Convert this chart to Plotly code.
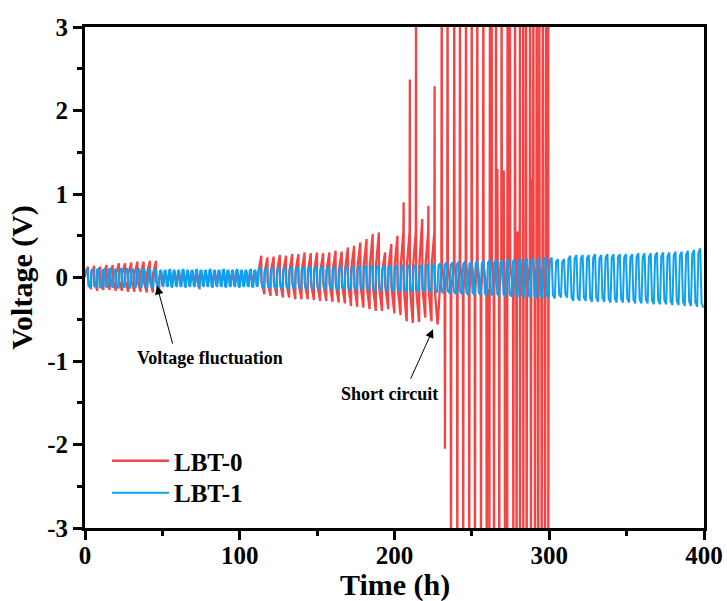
import plotly.graph_objects as go

# ---------------- data ----------------
# LBT-0, stage 1 (0-48 h), 4 h cycles
red1_start, red1_period = 0.0, 4.0
red1_hi = [0.13, 0.14, 0.13, 0.15, 0.15, 0.17, 0.17, 0.18, 0.19, 0.19, 0.20, 0.20]
red1_lo = [-0.14, -0.16, -0.15, -0.15, -0.16, -0.16, -0.17, -0.17, -0.17, -0.18, -0.18, -0.18]
# stage 2 (48-112 h), ~2.9 h cycles, small polarisation
red2_start, red2_period = 48.0, 2.9
red2_hi = [0.06, 0.05, 0.06, 0.05, 0.06, 0.05, 0.06, 0.06, 0.05, 0.06, 0.05,
           0.06, 0.05, 0.06, 0.06, 0.05, 0.06, 0.05, 0.06, 0.06, 0.05, 0.06]
red2_lo = [-0.07, -0.06, -0.07, -0.06, -0.07, -0.07, -0.06, -0.07, -0.14, -0.07, -0.06,
           -0.07, -0.07, -0.06, -0.07, -0.07, -0.06, -0.07, -0.07, -0.06, -0.07, -0.07]
# stage 3 (112-228 h), 4 h cycles
red3_start, red3_period = 112.0, 4.0
red3_hi = [0.26, 0.24, 0.25, 0.27, 0.26, 0.28, 0.28, 0.30, 0.29, 0.30, 0.29, 0.30, 0.32, 0.31,
           0.36, 0.38, 0.42, 0.46, 0.52, 0.54, 0.30, 0.40, 0.50, 0.90, 2.37, 4.00, 0.70, 0.86, 2.29]
red3_lo = [-0.20, -0.22, -0.22, -0.24, -0.24, -0.26, -0.26, -0.26, -0.27, -0.28, -0.28, -0.29,
           -0.30, -0.31, -0.34, -0.35, -0.36, -0.38, -0.40, -0.40, -0.38, -0.43, -0.45, -0.51,
           -0.53, -0.52, -0.48, -0.51, -0.55]
# stage 4: short circuit (230-300 h), spikes beyond the axis range
red_up_t = [230.5, 234.3, 238.6, 242.3, 246.2, 249.9, 253.5, 257.4, 261.7, 262.8, 265.6, 269.2,
            273.1, 274.6, 277.9, 281.1, 283.2, 285.0, 287.6, 289.7, 291.9, 293.6, 295.8, 297.9, 299.4]
red_up_v = [4.0, 4.0, 4.0, 4.0, 4.0, 4.0, 4.0, 4.0, 4.0, 4.0, 4.0, 4.0,
            4.0, 4.0, 4.0, 4.0, 4.0, 4.0, 4.0, 4.0, 4.0, 4.0, 4.0, 4.0, 4.0]
red_dn_t = [232.6, 236.5, 240.6, 244.4, 248.3, 252.0, 255.9, 259.6, 261.3, 264.3, 267.7, 271.4,
            272.9, 276.8, 278.9, 281.1, 283.2, 285.4, 288.2, 290.8, 292.9, 295.1, 297.3, 299.4]
red_dn_v = [-2.05, -4.0, -4.0, -4.0, -4.0, -4.0, -4.0, -4.0, -4.0, -4.0, -4.0, -4.0,
            -4.0, -4.0, -4.0, -4.0, -4.0, -4.0, -4.0, -4.0, -4.0, -4.0, -4.0, -4.0]
red_mid_t = [266.5, 270.6, 279.5, 288.6]
red_mid_v = [1.30, 1.28, 0.55, 1.18]

# LBT-1
blue1_start, blue1_period = 0.0, 3.7
blue1_hi = [0.10, 0.10, 0.11, 0.10, 0.11, 0.10, 0.11, 0.11, 0.10, 0.11, 0.11, 0.10, 0.10]
blue1_lo = [-0.12, -0.12, -0.13, -0.12, -0.12, -0.13, -0.12, -0.13, -0.12, -0.12, -0.13, -0.12, -0.12]
blue2_start, blue2_period = 48.1, 2.9
blue2_hi = [0.09, 0.09, 0.10, 0.09, 0.09, 0.10, 0.09, 0.09, 0.10, 0.09, 0.09,
            0.10, 0.09, 0.09, 0.10, 0.09, 0.09, 0.10, 0.09, 0.09, 0.10, 0.09]
blue2_lo = [-0.11, -0.11, -0.12, -0.11, -0.11, -0.12, -0.11, -0.11, -0.12, -0.11, -0.11,
            -0.12, -0.11, -0.11, -0.12, -0.11, -0.11, -0.12, -0.11, -0.11, -0.12, -0.11]
blue3_start, blue3_period = 112.0, 4.0
blue3_hi = [0.12, 0.12, 0.12, 0.12, 0.12, 0.13, 0.12, 0.13, 0.13, 0.13,
            0.13, 0.13, 0.13, 0.13, 0.14, 0.13, 0.14, 0.14, 0.14, 0.14,
            0.14, 0.14, 0.15, 0.15, 0.15, 0.15, 0.15, 0.16, 0.16, 0.17,
            0.18, 0.18, 0.19, 0.19, 0.19, 0.20, 0.20, 0.21, 0.21, 0.21,
            0.22, 0.22, 0.22, 0.23, 0.23, 0.24, 0.24, 0.24, 0.22, 0.22,
            0.26, 0.27, 0.27, 0.27, 0.28, 0.27, 0.28, 0.28, 0.28, 0.28,
            0.28, 0.29, 0.29, 0.29, 0.30, 0.30, 0.30, 0.31, 0.31, 0.32,
            0.33, 0.35]
blue3_lo = [-0.13, -0.13, -0.13, -0.13, -0.14, -0.13, -0.14, -0.14, -0.14, -0.14,
            -0.14, -0.14, -0.15, -0.14, -0.15, -0.15, -0.15, -0.15, -0.16, -0.16,
            -0.16, -0.16, -0.16, -0.17, -0.17, -0.17, -0.17, -0.18, -0.18, -0.19,
            -0.19, -0.20, -0.20, -0.21, -0.21, -0.21, -0.22, -0.22, -0.23, -0.23,
            -0.23, -0.24, -0.24, -0.24, -0.25, -0.25, -0.25, -0.25, -0.24, -0.24,
            -0.28, -0.28, -0.28, -0.29, -0.29, -0.29, -0.30, -0.30, -0.30, -0.30,
            -0.31, -0.31, -0.31, -0.32, -0.32, -0.32, -0.33, -0.33, -0.34, -0.34,
            -0.35, -0.36]

x_ticks = [0, 100, 200, 300, 400]
y_ticks = [-3, -2, -1, 0, 1, 2, 3]
y_tick_text = ["-3", "-2", "-1", "0", "1", "2", "3"]


# ---------------- waveform builders ----------------
def red_wave(t0, P, his, los):
    ts, vs = [], []
    for i, (h, l) in enumerate(zip(his, los)):
        c = t0 + i * P
        hc = min(h, 0.55)
        lc = max(l, -0.55)
        ts += [c, c + 0.44 * P, c + 0.48 * P, c + 0.5 * P, c + 0.94 * P, c + 0.98 * P]
        vs += [0.25 * hc, hc, h, 0.25 * lc, lc, l]
    return ts, vs


def blue_wave(t0, P, his, los):
    ts, vs = [], []
    for i, (h, l) in enumerate(zip(his, los)):
        c = t0 + i * P
        ts += [c, c + 0.10 * P, c + 0.40 * P, c + 0.5 * P, c + 0.60 * P, c + 0.90 * P]
        vs += [0.0, 0.85 * h, h, 0.0, 0.85 * l, l]
    return ts, vs


rt, rv = [], []
for args in [(red1_start, red1_period, red1_hi, red1_lo),
             (red2_start, red2_period, red2_hi, red2_lo),
             (red3_start, red3_period, red3_hi, red3_lo)]:
    a, b = red_wave(*args)
    rt += a
    rv += b
events = sorted(list(zip(red_up_t, red_up_v)) + list(zip(red_dn_t, red_dn_v))
                + list(zip(red_mid_t, red_mid_v)), key=lambda e: e[0])
for t, v in events:
    base = 0.15 if v > 0 else -0.15
    rt += [t - 0.2, t, t + 0.2]
    rv += [base, v, base]

bt, bv = [], []
for args in [(blue1_start, blue1_period, blue1_hi, blue1_lo),
             (blue2_start, blue2_period, blue2_hi, blue2_lo),
             (blue3_start, blue3_period, blue3_hi, blue3_lo)]:
    a, b = blue_wave(*args)
    bt += a
    bv += b

RED = "#F24545"
BLUE = "#0FA0F0"
FONT = "Liberation Serif"

fig = go.Figure()
fig.add_trace(go.Scatter(x=rt, y=rv, mode="lines", name="LBT-0", legend="legend",
                         line=dict(color=RED, width=2.3)))
fig.add_trace(go.Scatter(x=bt, y=bv, mode="lines", name="LBT-1", legend="legend2",
                         line=dict(color=BLUE, width=2.0)))

axis_common = dict(showgrid=False, zeroline=False, showline=True, linecolor="black",
                   linewidth=3, mirror=True, ticks="outside", ticklen=9, tickwidth=2.5,
                   tickcolor="black", automargin=False,
                   tickfont=dict(family=FONT, size=25, color="black", weight="bold"))

fig.update_xaxes(range=[0, 400], tickmode="array", tickvals=x_ticks,
                 ticktext=[str(v) for v in x_ticks], ticklabelstandoff=-6,
                 minor=dict(tickmode="array", tickvals=[50, 150, 250, 350], ticks="outside",
                            ticklen=5, tickwidth=2.5, tickcolor="black"),
                 **axis_common)
fig.update_yaxes(range=[-3, 3], tickmode="array", tickvals=y_ticks, ticktext=y_tick_text,
                 minor=dict(tickmode="array", tickvals=[-2.5, -1.5, -0.5, 0.5, 1.5, 2.5],
                            ticks="outside", ticklen=5, tickwidth=2.5, tickcolor="black"),
                 title=dict(text="Voltage (V)", standoff=6,
                            font=dict(family=FONT, size=30, color="black", weight="bold")),
                 **axis_common)

# x-axis title placed as a paper annotation so it can sit near the bottom edge
fig.add_annotation(x=0.5, y=-0.1145, xref="paper", yref="paper", xanchor="center",
                   yanchor="middle", text="Time (h)", showarrow=False,
                   font=dict(family=FONT, size=30, color="black", weight="bold"))

ann_font = dict(family=FONT, size=18, color="black", weight="bold")
fig.add_annotation(x=46.5, y=-0.1, ax=56.9, ay=-0.81, xref="x", yref="y", axref="x", ayref="y",
                   text="", showarrow=True, arrowhead=2, arrowsize=1.7, arrowwidth=1,
                   arrowcolor="black")
fig.add_annotation(x=224.9, y=-0.62, ax=210, ay=-1.23, xref="x", yref="y", axref="x", ayref="y",
                   text="", showarrow=True, arrowhead=2, arrowsize=1.7, arrowwidth=1,
                   arrowcolor="black")
fig.add_annotation(x=80.8, y=-0.96, xref="x", yref="y", text="Voltage fluctuation",
                   showarrow=False, font=ann_font)
fig.add_annotation(x=197, y=-1.39, xref="x", yref="y", text="Short circuit",
                   showarrow=False, font=ann_font)

legend_font = dict(family=FONT, size=25, color="black", weight="bold")
fig.update_layout(
    width=727, height=601,
    margin=dict(l=85, r=23, t=27, b=73),
    paper_bgcolor="white", plot_bgcolor="white",
    font=dict(family=FONT, color="black"),
    showlegend=True,
    legend=dict(x=0.0355, y=0.1337, xanchor="left", yanchor="middle",
                bgcolor="rgba(0,0,0,0)", itemwidth=57, font=legend_font),
    legend2=dict(x=0.0355, y=0.0699, xanchor="left", yanchor="middle",
                 bgcolor="rgba(0,0,0,0)", itemwidth=57, font=legend_font),
)

fig.write_html("out.html")
